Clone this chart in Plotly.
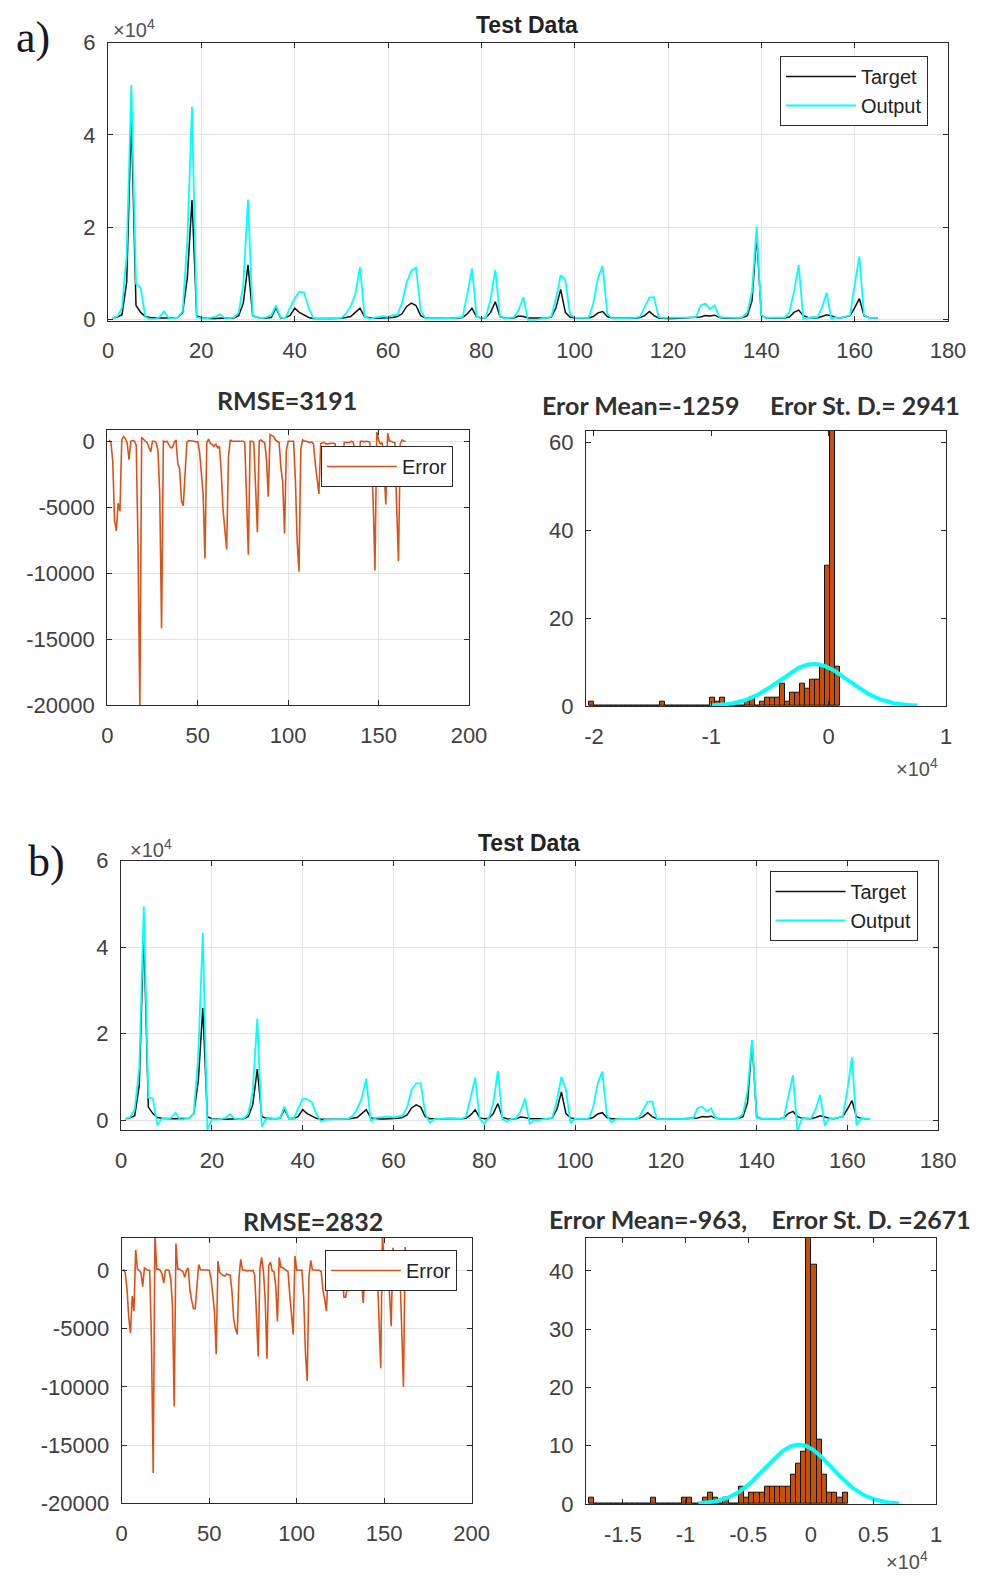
import numpy as np
import plotly.graph_objects as go

# page is 984x1576; the html body has an 8px margin, so the figure is 976x1568
PAGE_OFF = 8
W, H = 976, 1568

# ---------------- data ----------------
t = list(range(1, 166))

target = [300, 500, 1000, 8000, 44000, 3000, 1500, 600, 400, 300,
          300, 300, 300, 300, 400, 1500, 9000, 25900, 800, 300,
          200, 200, 200, 300, 300, 250, 300, 800, 3500, 11800,
          800, 400, 300, 300, 400, 2500, 300, 400, 800, 2400,
          1500, 900, 400, 200, 150, 150, 200, 200, 200, 250,
          400, 600, 1500, 2400, 500, 300, 250, 250, 300, 300,
          400, 600, 1200, 2800, 3500, 3000, 800, 300, 250, 300,
          300, 350, 300, 250, 300, 400, 1200, 2400, 500, 300,
          400, 1500, 3800, 600, 300, 250, 300, 700, 600, 300,
          250, 250, 300, 300, 500, 2500, 6500, 1500, 500, 300,
          300, 250, 300, 600, 1400, 1700, 600, 300, 250, 250,
          300, 300, 250, 400, 800, 1700, 800, 300, 200, 200,
          200, 250, 250, 200, 250, 300, 500, 800, 700, 900,
          400, 300, 250, 300, 300, 400, 800, 4000, 18300, 800,
          300, 300, 300, 350, 300, 500, 1500, 2000, 800, 400,
          300, 300, 600, 1000, 700, 400, 300, 500, 800, 2500,
          4500, 800, 400, 300, 300]

output_a = [200, 600, 2500, 14000, 50800, 7700, 6800, 500, 50, 100,
            450, 1700, 300, 250, 400, 1800, 17000, 46100, 500, 200,
            200, 300, 600, 1100, 300, 250, 400, 1500, 7500, 26000,
            800, 450, 300, 500, 900, 3000, 400, 300, 2500, 4500,
            6000, 5800, 2500, 300, 100, 100, 200, 200, 250, 300,
            1200, 2800, 5500, 11300, 600, 150, 400, 500, 700, 500,
            900, 1000, 3500, 8000, 10500, 11200, 2000, 200, 250, 300,
            300, 400, 300, 250, 300, 500, 5500, 11000, 500, 300,
            500, 4500, 10700, 600, 200, 300, 400, 2000, 4800, -200,
            -150, -100, 200, 300, 600, 4500, 9600, 8500, 1200, 300,
            300, 250, 300, 3500, 9000, 11600, 1200, 200, 250, 250,
            350, 400, 300, 600, 2500, 4700, 4800, 500, 300, 300,
            400, 450, 400, 350, 400, 500, 3000, 3400, 2200, 3000,
            500, 400, 350, 400, 300, 500, 1500, 6000, 20100, 800,
            300, 350, 300, 400, 350, 1500, 6000, 11800, 100, 300,
            500, 400, 2500, 5800, 100, 400, 300, 600, 900, 7500,
            13600, 1000, 300, 300, 300]

output_b = [200, 700, 2500, 12000, 49400, 5200, 5000, -1150, 300, 300,
            500, 1700, 100, 200, 400, 1500, 15000, 43300, -2300, 200,
            100, 200, 500, 1400, 300, 200, 300, 1500, 6500, 23500,
            -1500, 300, 200, 300, 500, 3100, 300, 200, 2500, 5000,
            4800, 4200, 1500, -300, 100, 100, 200, 200, 200, 250,
            1000, 2500, 5000, 9600, -300, 500, 600, 700, 800, 600,
            800, 1000, 3000, 7000, 8500, 8500, 1500, -640, 200, 300,
            300, 400, 300, 300, 300, 800, 5000, 9800, 300, -800,
            500, 4000, 11400, 200, -400, 300, 400, 2000, 5000, -800,
            0, 0, 200, 300, 600, 4500, 10000, 7000, -730, 300,
            300, 250, 300, 3000, 8500, 11200, 1200, -560, 200, 250,
            300, 300, 250, 500, 2500, 4200, 4300, 300, 200, 200,
            250, 300, 300, 250, 300, 400, 2800, 3100, 2000, 2700,
            400, 300, 250, 300, 300, 500, 1500, 6800, 18500, 600,
            300, 300, 300, 350, 300, 500, 5500, 10400, -2500, 300,
            400, 400, 2500, 5800, -1240, 400, 300, 600, 900, 7000,
            14500, -1200, 300, 300, 300]

error_a = [tg - o for tg, o in zip(target, output_a)]
error_b = [tg - o for tg, o in zip(target, output_b)]

# histogram bins (start edge, width, counts per bin)
hist_a_start, hist_a_width = -20400, 428
hist_a_counts = [1, 0, 0, 0, 0, 0, 0, 0, 0, 0,
                 0, 0, 0, 0, 1, 0, 0, 0, 0, 0,
                 0, 0, 0, 0, 2, 1, 2, 0, 0, 0,
                 0, 1, 2, 0, 1, 2, 2, 2, 5, 1,
                 3, 3, 5, 4, 6, 6, 9, 32, 65, 9]
hist_b_start, hist_b_width = -17746, 414
hist_b_counts = [1, 0, 0, 0, 0, 0, 0, 0, 0, 0,
                 0, 0, 1, 0, 0, 0, 0, 0, 1, 1,
                 0, 0, 1, 2, 1, 0, 1, 0, 0, 3,
                 1, 2, 2, 2, 3, 3, 3, 3, 3, 5,
                 7, 9, 46, 41, 11, 5, 2, 2, 1, 2]

mean_a, std_a = -1259, 2941
mean_b, std_b = -963, 2671
n_points = 165

x_ticks_top = [0, 20, 40, 60, 80, 100, 120, 140, 160, 180]
y_ticks_top = [0, 20000, 40000, 60000]
y_ticklabels_top = ["0", "2", "4", "6"]
x_ticks_err = [0, 50, 100, 150, 200]
y_ticks_err = [0, -5000, -10000, -15000, -20000]
y_ticklabels_err = ["0", "-5000", "-10000", "-15000", "-20000"]
x_ticks_hist_a = [-20000, -10000, 0, 10000]
x_ticklabels_hist_a = ["-2", "-1", "0", "1"]
y_ticks_hist_a = [0, 20, 40, 60]
x_ticks_hist_b = [-15000, -10000, -5000, 0, 5000, 10000]
x_ticklabels_hist_b = ["-1.5", "-1", "-0.5", "0", "0.5", "1"]
y_ticks_hist_b = [0, 10, 20, 30, 40]

# ---------------- styling helpers ----------------
TICKFONT = dict(family="Liberation Sans, Arial, sans-serif", size=22, color="#404040")
C_TARGET = "#111111"
C_OUTPUT = "#00FFFF"
C_ERROR = "#D95319"
C_BAR = "#C8510A"


def xd(a, b):
    return [(a - PAGE_OFF) / W, (b - PAGE_OFF) / W]


def yd(top, bottom):
    return [1 - (bottom - PAGE_OFF) / H, 1 - (top - PAGE_OFF) / H]


def px(x):
    return (x - PAGE_OFF) / W


def py(y):
    return 1 - (y - PAGE_OFF) / H


def axis(domain, rng, tickvals, ticktext=None, grid=True, anchor=None, is_x=True):
    d = dict(domain=domain, range=rng, tickmode="array", tickvals=tickvals,
             ticktext=ticktext if ticktext is not None else [str(v) for v in tickvals],
             showgrid=grid, gridcolor="#e3e3e3", gridwidth=1, zeroline=False,
             showline=True, linecolor="#2a2a2a", linewidth=1.3, mirror="ticks",
             ticks="inside", ticklen=5, tickcolor="#2a2a2a", tickfont=TICKFONT,
             anchor=anchor, fixedrange=True, automargin=False,
             ticklabelstandoff=10 if is_x else 7)
    return d


def fit_curve(mean, std, width):
    xs = np.linspace(mean - 3 * std, mean + 3 * std, 300)
    ys = n_points * width / (std * np.sqrt(2 * np.pi)) * np.exp(-0.5 * ((xs - mean) / std) ** 2)
    return xs, ys


fig = go.Figure()

# ---- a) top
fig.add_trace(go.Scatter(x=t, y=target, mode="lines", name="Target",
                         line=dict(color=C_TARGET, width=1.5), xaxis="x", yaxis="y", legend="legend"))
fig.add_trace(go.Scatter(x=t, y=output_a, mode="lines", name="Output",
                         line=dict(color=C_OUTPUT, width=1.8), xaxis="x", yaxis="y", legend="legend"))
# ---- a) error
fig.add_trace(go.Scatter(x=t, y=error_a, mode="lines", name="Error",
                         line=dict(color=C_ERROR, width=1.6), xaxis="x2", yaxis="y2", legend="legend2"))
# ---- a) hist
centers_a = [hist_a_start + hist_a_width * (i + 0.5) for i in range(len(hist_a_counts))]
fig.add_trace(go.Bar(x=centers_a, y=hist_a_counts, width=hist_a_width, showlegend=False,
                     marker=dict(color=C_BAR, line=dict(color="#111111", width=1)),
                     xaxis="x3", yaxis="y3"))
fx, fy = fit_curve(mean_a, std_a, hist_a_width)
fig.add_trace(go.Scatter(x=fx, y=fy, mode="lines", showlegend=False,
                         line=dict(color=C_OUTPUT, width=4), xaxis="x3", yaxis="y3"))

# ---- b) top
fig.add_trace(go.Scatter(x=t, y=target, mode="lines", name="Target",
                         line=dict(color=C_TARGET, width=1.5), xaxis="x4", yaxis="y4", legend="legend3"))
fig.add_trace(go.Scatter(x=t, y=output_b, mode="lines", name="Output",
                         line=dict(color=C_OUTPUT, width=1.8), xaxis="x4", yaxis="y4", legend="legend3"))
# ---- b) error
fig.add_trace(go.Scatter(x=t, y=error_b, mode="lines", name="Error",
                         line=dict(color=C_ERROR, width=1.6), xaxis="x5", yaxis="y5", legend="legend4"))
# ---- b) hist
centers_b = [hist_b_start + hist_b_width * (i + 0.5) for i in range(len(hist_b_counts))]
fig.add_trace(go.Bar(x=centers_b, y=hist_b_counts, width=hist_b_width, showlegend=False,
                     marker=dict(color=C_BAR, line=dict(color="#111111", width=1)),
                     xaxis="x6", yaxis="y6"))
fx, fy = fit_curve(mean_b, std_b, hist_b_width)
fig.add_trace(go.Scatter(x=fx, y=fy, mode="lines", showlegend=False,
                         line=dict(color=C_OUTPUT, width=4), xaxis="x6", yaxis="y6"))

LEGFONT = dict(family="Liberation Sans, Arial, sans-serif", size=20, color="#222222")


def legend(xr, yt):
    return dict(x=px(xr), y=py(yt), xanchor="right", yanchor="top", bgcolor="white",
                bordercolor="#2a2a2a", borderwidth=1, font=LEGFONT, tracegroupgap=0,
                itemwidth=70)


layout = dict(
    template="none",
    width=W, height=H, margin=dict(l=0, r=0, t=0, b=0, pad=0), autosize=False,
    paper_bgcolor="white", plot_bgcolor="white", showlegend=True, bargap=0,
    xaxis=axis(xd(108, 948), [0, 180], x_ticks_top, anchor="y"),
    yaxis=axis(yd(42.7, 320.7), [-300, 60000], y_ticks_top, y_ticklabels_top, anchor="x", is_x=False),
    xaxis2=axis(xd(107.3, 469), [0, 200], x_ticks_err, anchor="y2"),
    yaxis2=axis(yd(430, 705), [-20000, 850], y_ticks_err, y_ticklabels_err, anchor="x2", is_x=False),
    xaxis3=axis(xd(586, 946), [-20680, 10000], x_ticks_hist_a, x_ticklabels_hist_a, grid=False, anchor="y3"),
    yaxis3=axis(yd(430.7, 706), [0, 62.7], y_ticks_hist_a, grid=False, anchor="x3", is_x=False),
    xaxis4=axis(xd(121.1, 938.2), [0, 180], x_ticks_top, anchor="y4"),
    yaxis4=axis(yd(860.7, 1130), [-2300, 60000], y_ticks_top, y_ticklabels_top, anchor="x4", is_x=False),
    xaxis5=axis(xd(121.7, 471.7), [0, 200], x_ticks_err, anchor="y5"),
    yaxis5=axis(yd(1237.7, 1503.3), [-20000, 2800], y_ticks_err, y_ticklabels_err, anchor="x5", is_x=False),
    xaxis6=axis(xd(586, 936), [-17950, 10000], x_ticks_hist_b, x_ticklabels_hist_b, grid=False, anchor="y6"),
    yaxis6=axis(yd(1237.7, 1504), [0, 45.7], y_ticks_hist_b, grid=False, anchor="x6", is_x=False),
    legend=legend(928, 56),
    legend2=legend(453, 446),
    legend3=legend(917.5, 871),
    legend4=legend(457, 1250),
)
fig.update_layout(**layout)


def ann(text, x, y, size, family, color="#222222", bold=False):
    fig.add_annotation(text=f"<b>{text}</b>" if bold else text, x=px(x), y=py(y),
                       xref="paper", yref="paper", showarrow=False,
                       xanchor="center", yanchor="middle",
                       font=dict(size=size, family=family, color=color))


SANS = "Liberation Sans, Arial, sans-serif"
CAL = "Lato, Open Sans, sans-serif"
NB = "\u00a0"

ann("a)", 33, 38, 44, "Liberation Serif, DejaVu Serif, serif", color="#161626")
ann("b)", 46, 861, 44, "Liberation Serif, DejaVu Serif, serif", color="#161626")
ann("Test Data", 527, 25, 23, SANS, bold=True)
ann("Test Data", 529, 843, 23, SANS, bold=True)
ann("×10<sup>4</sup>", 134, 29, 20, SANS, color="#505050")
ann("×10<sup>4</sup>", 151, 848, 20, SANS, color="#505050")
ann("RMSE=3191", 287, 400, 25, CAL, color="#303030", bold=True)
ann("RMSE=2832", 313, 1221, 25, CAL, color="#303030", bold=True)
ann("Eror Mean=-1259" + NB * 5 + "Eror St. D.= 2941", 751, 405, 25, CAL, color="#303030", bold=True)
ann("Error Mean=-963," + NB * 4 + "Error St. D. =2671", 760, 1219, 25, CAL, color="#303030", bold=True)
ann("×10<sup>4</sup>", 917, 768, 20, SANS, color="#505050")
ann("×10<sup>4</sup>", 907, 1560, 20, SANS, color="#505050")

fig.write_html("out.html")
